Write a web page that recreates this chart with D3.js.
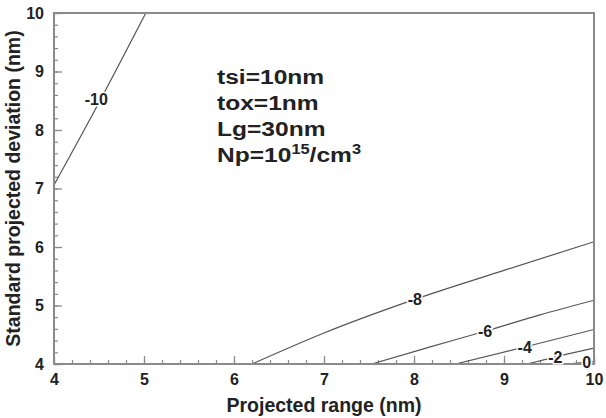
<!DOCTYPE html>
<html><head><meta charset="utf-8">
<script src="https://cdn.jsdelivr.net/npm/d3@7/dist/d3.min.js"></script>
<style>
html,body{margin:0;padding:0;background:#fff;}
svg{display:block;}
text{font-family:"Liberation Sans",Arial,sans-serif;font-weight:bold;fill:#222;}
</style></head>
<body>
<svg id="chart" width="606" height="418"></svg>
<script>
// ---- data ----
const xTicks = [4, 5, 6, 7, 8, 9, 10];
const yTicks = [4, 5, 6, 7, 8, 9, 10];
const contourLevels = [-10, -8, -6, -4, -2, 0];
const contourX = [
  [4.0, 4.5, 5.02],
  [6.2, 7.0, 8.0, 9.0, 10.0],
  [7.53, 8.2, 8.79, 9.4, 10.0],
  [8.46, 9.23, 10.0],
  [9.26, 9.57, 10.0],
  [9.7, 10.0]
];
const contourY = [
  [7.06, 8.47, 10.0],
  [4.0, 4.53, 5.1, 5.6, 6.09],
  [4.0, 4.3, 4.56, 4.84, 5.09],
  [4.0, 4.29, 4.59],
  [4.0, 4.12, 4.27],
  [4.0, 4.04]
];
const labelX = [4.47, 8.01, 8.79, 9.23, 9.57, 9.92];
const labelY = [8.53, 5.11, 4.56, 4.29, 4.12, 4.03];
const annotation = ["tsi=10nm", "tox=1nm", "Lg=30nm"];
const xTitle = "Projected range (nm)";
const yTitle = "Standard projected deviation (nm)";

// ---- layout ----
const L = 54, R = 594, T = 13, B = 364;
const svg = d3.select("#chart");
const x = d3.scaleLinear().domain([4, 10]).range([L, R]);
const y = d3.scaleLinear().domain([4, 10]).range([B, T]);

const frameColor = "#8a8a8a";

svg.append("clipPath").attr("id", "clip").append("rect")
  .attr("x", L).attr("y", T).attr("width", R - L).attr("height", B - T);

// minor ticks
const minor = d3.range(4, 10.001, 0.2);
const xMinor = d3.axisBottom(x).tickValues(minor).tickSize(-4).tickFormat("");
const yMinor = d3.axisLeft(y).tickValues(minor).tickSize(-4).tickFormat("");
svg.append("g").attr("transform", `translate(0,${B})`).call(xMinor)
  .call(g => g.select(".domain").remove())
  .selectAll("line").attr("stroke", frameColor).attr("stroke-width", 1.2);
svg.append("g").attr("transform", `translate(${L},0)`).call(yMinor)
  .call(g => g.select(".domain").remove())
  .selectAll("line").attr("stroke", frameColor).attr("stroke-width", 1.2);

// major axes
const xAxis = d3.axisBottom(x).tickValues(xTicks).tickSize(-8).tickPadding(10).tickFormat(d3.format("d"));
const yAxis = d3.axisLeft(y).tickValues(yTicks).tickSize(-8).tickPadding(10).tickFormat(d3.format("d"));
const gx = svg.append("g").attr("transform", `translate(0,${B})`).call(xAxis);
gx.select(".domain").remove();
gx.selectAll("line").attr("stroke", frameColor).attr("stroke-width", 1.3);
gx.selectAll("text").attr("font-size", 16).attr("font-family", "Liberation Sans, Arial, sans-serif")
  .attr("font-weight", "bold").attr("fill", "#222");
const gy = svg.append("g").attr("transform", `translate(${L},0)`).call(yAxis);
gy.select(".domain").remove();
gy.selectAll("line").attr("stroke", frameColor).attr("stroke-width", 1.3);
gy.selectAll("text").attr("font-size", 16).attr("font-family", "Liberation Sans, Arial, sans-serif")
  .attr("font-weight", "bold").attr("fill", "#222");

// contour lines
const line = d3.line().x(d => x(d[0])).y(d => y(d[1])).curve(d3.curveMonotoneX);
const gc = svg.append("g").attr("clip-path", "url(#clip)");
contourLevels.forEach((lv, i) => {
  const pts = contourX[i].map((v, j) => [v, contourY[i][j]]);
  gc.append("path").attr("d", line(pts)).attr("fill", "none")
    .attr("stroke", "#555").attr("stroke-width", 1.2);
});

// frame
svg.append("rect").attr("x", L).attr("y", T).attr("width", R - L).attr("height", B - T)
  .attr("fill", "none").attr("stroke", frameColor).attr("stroke-width", 2);

// contour labels
contourLevels.forEach((lv, i) => {
  svg.append("text").attr("x", x(labelX[i])).attr("y", y(labelY[i]))
    .attr("dy", "0.36em").attr("text-anchor", "middle").attr("font-size", 16)
    .attr("stroke", "#fff").attr("stroke-width", 3).attr("paint-order", "stroke")
    .text(lv);
});

// annotation block
const ga = svg.append("g").attr("transform", "translate(217,0) scale(1.17,1)");
annotation.forEach((s, i) => {
  ga.append("text").attr("x", 0).attr("y", 84 + i * 26).attr("font-size", 21).text(s);
});
const np = ga.append("text").attr("x", 0).attr("y", 84 + 3 * 26).attr("font-size", 21);
np.append("tspan").text("Np=10");
np.append("tspan").attr("font-size", 14).attr("dy", -8).text("15");
np.append("tspan").attr("dy", 8).text("/cm");
np.append("tspan").attr("font-size", 14).attr("dy", -8).text("3");

// axis titles
svg.append("text").attr("x", (L + R) / 2).attr("y", 412).attr("text-anchor", "middle")
  .attr("font-size", 19.5).text(xTitle);
svg.append("text").attr("transform", `translate(20,${(T + B) / 2}) rotate(-90)`)
  .attr("text-anchor", "middle").attr("font-size", 19.5).text(yTitle);
</script>
</body></html>
